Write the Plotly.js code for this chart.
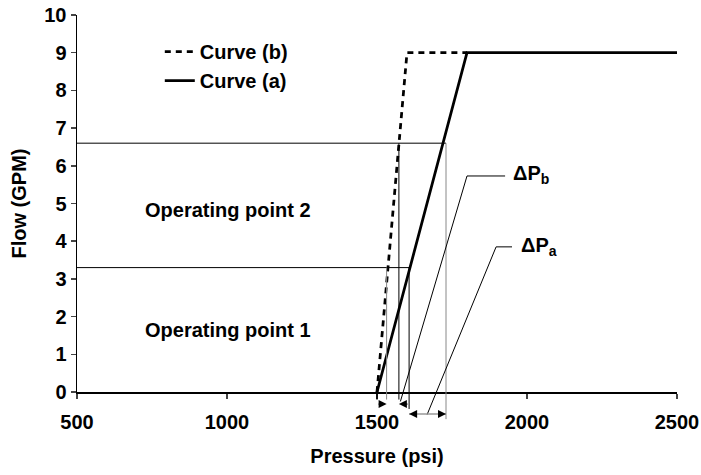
<!DOCTYPE html>
<html>
<head>
<meta charset="utf-8">
<script src="https://cdn.plot.ly/plotly-3.0.1.min.js"></script>
<style>html,body{margin:0;padding:0;background:#fff;}#chart{width:701px;height:475px;}</style>
</head>
<body>
<div id="chart"></div>
<script>
// ---- data ----
const curveA_P = [1500, 1800, 2500];
const curveA_F = [0, 9, 9];
const curveB_P = [1500, 1600, 1800];
const curveB_F = [0, 9, 9];
const opFlow = [3.3, 6.6];          // operating points 1 and 2
const opP_a = [1607, 1730];         // pressure on curve (a)
const opP_b = [1532, 1573];         // pressure on curve (b)
const xTicks = [500, 1000, 1500, 2000, 2500];
const yTicks = [0, 1, 2, 3, 4, 5, 6, 7, 8, 9, 10];
const leaderB_P = [1927, 1800, 1578];
const leaderB_F = [5.73, 5.73, -0.25];
const leaderA_P = [1950, 1897, 1667];
const leaderA_F = [3.85, 3.85, -0.6];
const pStart = 1500;

const FONT = {family: 'Liberation Sans, Arial, sans-serif', size: 20, color: '#000', weight: 'bold'};
const belowA = -0.72, belowB = -0.2, belowA1 = -0.45;

function seg(x, y, color, width, extra) {
  return Object.assign({x: x, y: y, mode: 'lines', xaxis: 'x', yaxis: 'y2', showlegend: false,
    hoverinfo: 'skip', line: {color: color, width: width}}, extra || {});
}

const traces = [
  // horizontal operating lines
  seg([500, opP_a[0]], [opFlow[0], opFlow[0]], '#000', 1),
  seg([500, opP_a[1]], [opFlow[1], opFlow[1]], '#000', 1),
  // verticals
  seg([opP_b[0], opP_b[0]], [opFlow[0], belowB], '#888', 1),
  seg([opP_b[1], opP_b[1]], [opFlow[1], belowB], '#000', 1),
  seg([opP_a[0], opP_a[0]], [opFlow[0], belowA1], '#000', 1),
  seg([opP_a[1], opP_a[1]], [opFlow[1], belowA], '#888', 1),
  seg([pStart, pStart], [0, belowB], '#000', 1.5),
  // leaders
  seg(leaderB_P, leaderB_F, '#000', 1),
  seg(leaderA_P, leaderA_F, '#000', 1),
  // double arrow shaft
  seg([opP_a[0], opP_a[1]], [-0.58, -0.58], '#999', 1.5),
  // curves
  {x: curveB_P, y: curveB_F, mode: 'lines', name: 'Curve (b)', xaxis: 'x', yaxis: 'y',
   line: {color: '#000', width: 2.75, dash: '6px,5px'}},
  {x: curveA_P, y: curveA_F, mode: 'lines', name: 'Curve (a)', xaxis: 'x', yaxis: 'y',
   line: {color: '#000', width: 2.75}}
];

function arrow(xHead, xTail, y) {
  return {x: xHead, y: y, ax: xTail, ay: y, xref: 'x', yref: 'y2', axref: 'x', ayref: 'y2',
    text: '', showarrow: true, arrowhead: 2, arrowsize: 1.6, arrowwidth: 1, arrowcolor: '#000',
    standoff: 0, startstandoff: 0};
}

const annotations = [
  arrow(opP_b[0], pStart, -0.32),
  arrow(opP_b[1], opP_a[0], -0.32),
  arrow(opP_a[0], opP_a[0] + 25, -0.58),
  arrow(opP_a[1], opP_a[1] - 25, -0.58),
  {x: 720, y: 4.83, xref: 'x', yref: 'y', text: 'Operating point 2', showarrow: false, xanchor: 'left', font: FONT},
  {x: 720, y: 1.64, xref: 'x', yref: 'y', text: 'Operating point 1', showarrow: false, xanchor: 'left', font: FONT},
  {x: 1945, y: 5.76, xref: 'x', yref: 'y', text: 'ΔP<sub>b</sub>', showarrow: false, xanchor: 'left', yanchor: 'middle', font: FONT},
  {x: 1972, y: 3.85, xref: 'x', yref: 'y', text: 'ΔP<sub>a</sub>', showarrow: false, xanchor: 'left', yanchor: 'middle', font: FONT}
];

const layout = {
  width: 701, height: 475,
  margin: {l: 77, r: 24, t: 15, b: 50},
  paper_bgcolor: '#fff', plot_bgcolor: 'rgba(0,0,0,0)',
  font: FONT,
  showlegend: true,
  legend: {x: 0.138, y: 0.9585, xanchor: 'left', yanchor: 'top', bgcolor: 'rgba(0,0,0,0)', font: FONT},
  xaxis: {range: [500, 2500], tickvals: xTicks, ticks: 'outside', ticklen: 5, tickwidth: 1.5,
    showline: true, linewidth: 1.5, linecolor: '#000', showgrid: false, zeroline: false,
    anchor: 'y', tickfont: FONT, ticklabelstandoff: 6,
    title: {text: 'Pressure (psi)', font: FONT, standoff: 17}},
  yaxis: {range: [0, 10], domain: [33 / 410, 1], tickvals: yTicks, ticks: 'outside', ticklen: 5, tickwidth: 1.5,
    showline: true, linewidth: 1.5, linecolor: '#000', showgrid: false, zeroline: false,
    anchor: 'x', tickfont: FONT,
    title: {text: 'Flow (GPM)', font: FONT, standoff: 12}},
  yaxis2: {range: [-0.875, 10], domain: [0, 1], anchor: 'x', visible: false, showgrid: false, zeroline: false},
  annotations: annotations
};

Plotly.newPlot('chart', traces, layout, {staticPlot: true, displayModeBar: false});
</script>
</body>
</html>
